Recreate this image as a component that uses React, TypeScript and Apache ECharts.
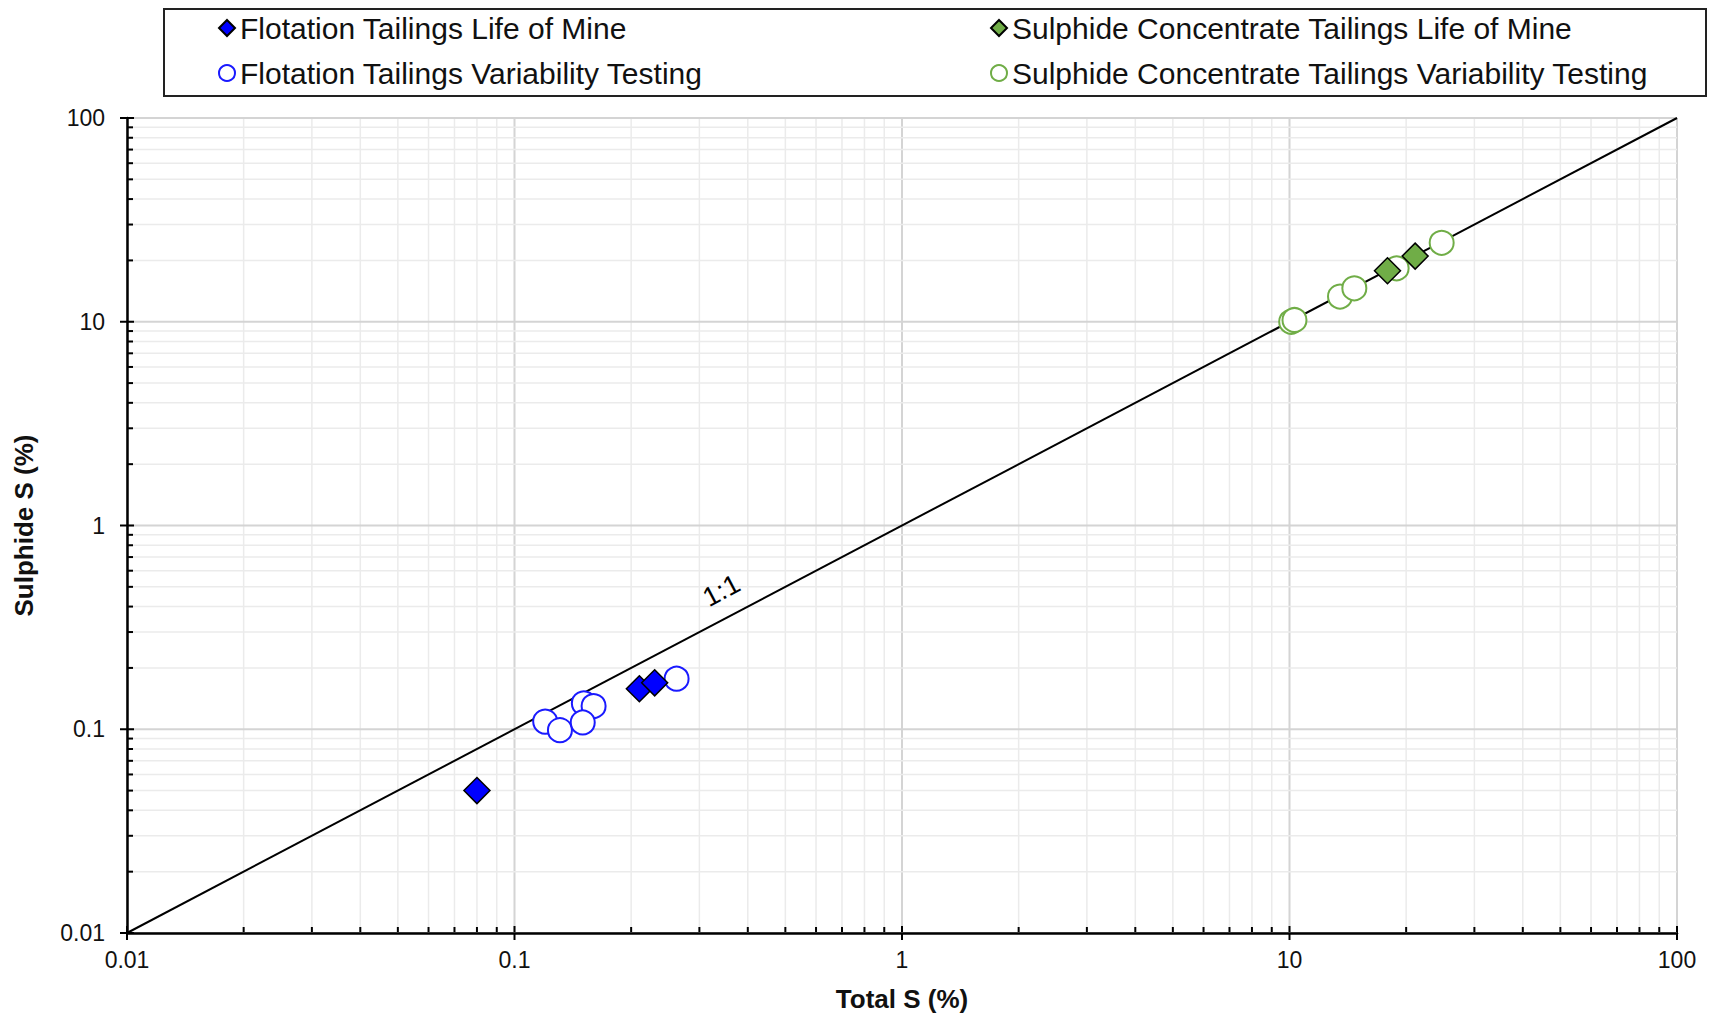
import React, { useEffect, useRef } from "react";
import * as echarts from "echarts";

// ---- data ----
const seriesNames = [
  "Flotation Tailings Life of Mine",
  "Flotation Tailings Variability Testing",
  "Sulphide Concentrate Tailings Life of Mine",
  "Sulphide Concentrate Tailings Variability Testing",
];

// [Total S (%), Sulphide S (%)]
const flotationLOM: number[][] = [
  [0.08, 0.05],
  [0.21, 0.158],
  [0.23, 0.169],
];
const flotationVT: number[][] = [
  [0.12, 0.109],
  [0.131, 0.099],
  [0.151, 0.134],
  [0.16, 0.13],
  [0.15, 0.108],
  [0.262, 0.177],
];
const sulphideLOM: number[][] = [
  [17.9, 17.8],
  [21.1, 21.0],
];
const sulphideVT: number[][] = [
  [10.1, 10.0],
  [10.3, 10.2],
  [13.5, 13.3],
  [14.7, 14.6],
  [18.9, 18.3],
  [24.7, 24.4],
];
const oneToOneLine: number[][] = [
  [0.01, 0.01],
  [100, 100],
];
const oneToOneLabel: number[][] = [[0.342, 0.479]];

const majorTicks = [0.01, 0.1, 1, 10, 100];
const minorSteps = [2, 3, 4, 5, 6, 7, 8, 9];

const FONT = "'Liberation Sans', Arial, sans-serif";

export default function App() {
  const ref = useRef<HTMLDivElement>(null);

  useEffect(() => {
    document.body.style.margin = "0";
    if (!ref.current) return;
    const chart = echarts.init(ref.current, null, { renderer: "svg" });

    // tick positions: [value, kind] kind 1 = major, 0 = minor
    const tickVals: number[][] = [];
    majorTicks.forEach((d, i) => {
      tickVals.push([d, 1]);
      if (i < majorTicks.length - 1) minorSteps.forEach((m) => tickVals.push([d * m, 0]));
    });

    const xGridData = tickVals.map((t) => [t[0], 1, t[1]]);
    const yGridData = tickVals.map((t) => [1, t[0], t[1]]);

    const fmt = (v: number) => String(Number(Number(v).toPrecision(4)));

    const legendBase = (name: string, left: number, top: number) => ({
      data: [name],
      left,
      top,
      orient: "horizontal",
      padding: 0,
      itemWidth: 16,
      itemHeight: 16,
      selectedMode: false,
      textStyle: { fontSize: 30, color: "#111", fontFamily: FONT, lineHeight: 30 },
    });

    chart.setOption({
      animation: false,
      backgroundColor: "#fff",
      textStyle: { fontFamily: FONT },
      grid: { left: 127, top: 118, right: 35, bottom: 84, containLabel: false },
      legend: [
        legendBase(seriesNames[0], 218, 13),
        legendBase(seriesNames[1], 218, 58),
        legendBase(seriesNames[2], 990, 13),
        legendBase(seriesNames[3], 990, 58),
      ],
      graphic: [
        {
          type: "rect",
          shape: { x: 164, y: 9, width: 1542, height: 87 },
          style: { fill: "none", stroke: "#222", lineWidth: 2 },
          z: 10,
        },
      ],
      xAxis: {
        type: "log",
        logBase: 10,
        min: 0.01,
        max: 100,
        z: 3,
        name: "Total S (%)",
        nameLocation: "middle",
        nameGap: 53,
        nameTextStyle: { fontSize: 26, fontWeight: "bold", color: "#111", fontFamily: FONT },
        axisLine: { show: true, lineStyle: { color: "#000", width: 2.5 } },
        axisTick: { show: false },
        splitLine: { show: false },
        axisLabel: { fontSize: 23, color: "#111", margin: 15, fontFamily: FONT, formatter: fmt },
      },
      yAxis: {
        type: "log",
        logBase: 10,
        min: 0.01,
        max: 100,
        z: 3,
        name: "Sulphide S (%)",
        nameLocation: "middle",
        nameGap: 90,
        nameRotate: 90,
        nameTextStyle: { fontSize: 26, fontWeight: "bold", color: "#111", fontFamily: FONT },
        axisLine: { show: true, lineStyle: { color: "#000", width: 2.5 } },
        axisTick: { show: false },
        splitLine: { show: false },
        axisLabel: { fontSize: 23, color: "#111", margin: 22, fontFamily: FONT, formatter: fmt },
      },
      series: [
        {
          type: "custom",
          name: "xgrid",
          coordinateSystem: "cartesian2d",
          clip: false,
          silent: true,
          z: 1,
          encode: { x: 0, y: 1 },
          data: xGridData,
          renderItem: (params: any, api: any) => {
            const x = api.coord([api.value(0), 1])[0];
            const cs = params.coordSys;
            const top = cs.y;
            const bottom = cs.y + cs.height;
            const major = api.value(2) === 1;
            return {
              type: "group",
              children: [
                {
                  type: "line",
                  shape: { x1: x, y1: top, x2: x, y2: bottom },
                  style: { stroke: major ? "#d4d4d4" : "#ebebeb", lineWidth: major ? 2 : 1.5 },
                },
                {
                  type: "line",
                  shape: major
                    ? { x1: x, y1: bottom + 7, x2: x, y2: bottom - 7 }
                    : { x1: x, y1: bottom, x2: x, y2: bottom - 6 },
                  style: { stroke: "#000", lineWidth: 2 },
                },
              ],
            };
          },
        },
        {
          type: "custom",
          name: "ygrid",
          coordinateSystem: "cartesian2d",
          clip: false,
          silent: true,
          z: 1,
          encode: { x: 0, y: 1 },
          data: yGridData,
          renderItem: (params: any, api: any) => {
            const y = api.coord([1, api.value(1)])[1];
            const cs = params.coordSys;
            const left = cs.x;
            const right = cs.x + cs.width;
            const major = api.value(2) === 1;
            return {
              type: "group",
              children: [
                {
                  type: "line",
                  shape: { x1: left, y1: y, x2: right, y2: y },
                  style: { stroke: major ? "#d4d4d4" : "#ebebeb", lineWidth: major ? 2 : 1.5 },
                },
                {
                  type: "line",
                  shape: major
                    ? { x1: left - 7, y1: y, x2: left + 7, y2: y }
                    : { x1: left, y1: y, x2: left + 6, y2: y },
                  style: { stroke: "#000", lineWidth: 2 },
                },
              ],
            };
          },
        },
        {
          type: "line",
          name: "1:1",
          data: oneToOneLine,
          symbol: "none",
          silent: true,
          z: 2,
          lineStyle: { color: "#000", width: 2 },
        },
        {
          type: "scatter",
          name: "1:1 label",
          data: oneToOneLabel,
          symbolSize: 1,
          silent: true,
          z: 2,
          itemStyle: { opacity: 0 },
          label: {
            show: true,
            position: "inside",
            formatter: "1:1",
            rotate: 28,
            fontSize: 27,
            color: "#000",
            opacity: 1,
            textBorderWidth: 0,
            fontFamily: FONT,
          },
        },
        {
          type: "scatter",
          name: seriesNames[1],
          data: flotationVT,
          symbol: "circle",
          symbolSize: 24,
          z: 3,
          itemStyle: { color: "#ffffff", borderColor: "#1a1aff", borderWidth: 2, opacity: 1 },
        },
        {
          type: "scatter",
          name: seriesNames[0],
          data: flotationLOM,
          symbol: "diamond",
          symbolSize: 26,
          z: 4,
          itemStyle: { color: "#0000ff", borderColor: "#000", borderWidth: 1.5, opacity: 1 },
        },
        {
          type: "scatter",
          name: seriesNames[3],
          data: sulphideVT,
          symbol: "circle",
          symbolSize: 24,
          z: 3,
          itemStyle: { color: "#ffffff", borderColor: "#70ad47", borderWidth: 2, opacity: 1 },
        },
        {
          type: "scatter",
          name: seriesNames[2],
          data: sulphideLOM,
          symbol: "diamond",
          symbolSize: 26,
          z: 4,
          itemStyle: { color: "#70ad47", borderColor: "#000", borderWidth: 1.5, opacity: 1 },
        },
      ],
    });

    return () => chart.dispose();
  }, []);

  return <div ref={ref} style={{ width: 1712, height: 1017, display: "block" }} />;
}
